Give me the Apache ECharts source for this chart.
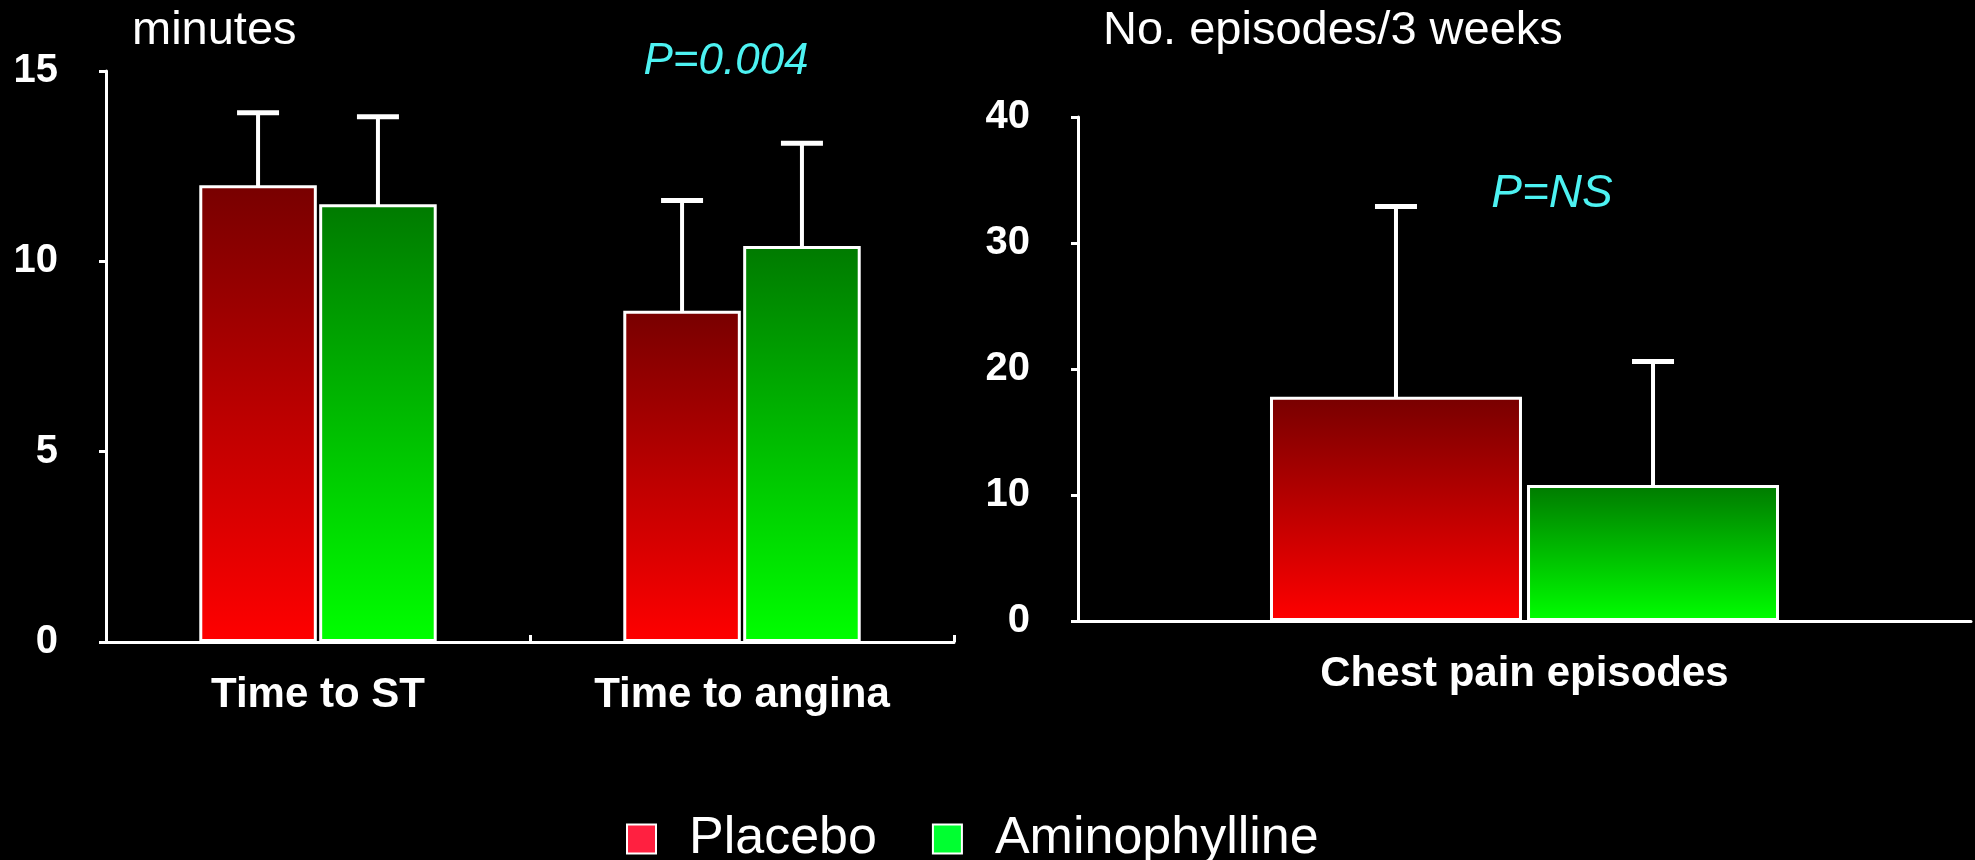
<!DOCTYPE html>
<html>
<head>
<meta charset="utf-8">
<script src="https://cdn.jsdelivr.net/npm/echarts@6/dist/echarts.min.js"></script>
<style>
html,body{margin:0;padding:0;background:#000;}
#chart{width:1975px;height:860px;}
</style>
</head>
<body>
<div id="chart"></div>
<script>
// ---- data ----
const categoriesLeft = ['Time to ST', 'Time to angina'];
const placeboLeft = [12.0, 8.7];
const placeboSDLeft = [1.9, 2.9];
const aminoLeft = [11.5, 10.4];
const aminoSDLeft = [2.3, 2.7];

const categoriesRight = ['Chest pain episodes'];
const placeboRight = [17.8];
const placeboSDRight = [15.1];
const aminoRight = [10.8];
const aminoSDRight = [9.8];

const leftTicks = {min: 0, max: 15, interval: 5};
const rightTicks = {min: 0, max: 40, interval: 10};

const seriesNames = ['Placebo', 'Aminophylline'];
const pLeft = 'P=0.004';
const pRight = 'P=NS';
const unitLeft = 'minutes';
const unitRight = 'No. episodes/3 weeks';

// ---- style ----
const FONT = '"Liberation Sans", Arial, sans-serif';
const CAT_GAP_LEFT = 0.44;
const CAT_GAP_RIGHT = 0.43;
const BAR_GAP = 0.02;

function grad(top, bottom) {
  return new echarts.graphic.LinearGradient(0, 0, 0, 1, [
    {offset: 0, color: top}, {offset: 1, color: bottom}
  ]);
}
const redGrad = grad('#780000', '#FF0000');
const greenGrad = grad('#007A00', '#00FF00');

function errData(vals, sds) {
  return vals.map((v, i) => [i, v, v + sds[i]]);
}

function makeErr(side, catGap) {
  return function (params, api) {
    const ci = api.value(0);
    const v = api.value(1);
    const up = api.value(2);
    const base = api.coord([ci, v]);
    const top = api.coord([ci, up]);
    const band = api.size([1, 0])[0];
    const w = band * (1 - catGap) / (2 + BAR_GAP);
    const x = base[0] + side * (w / 2 + BAR_GAP * w / 2);
    const stemW = 4, capW = 42, capH = 5;
    return {
      type: 'group',
      children: [
        {type: 'rect', shape: {x: x - stemW / 2, y: top[1], width: stemW, height: base[1] - top[1] + 9}, style: {fill: '#fff'}},
        {type: 'rect', shape: {x: x - capW / 2, y: top[1] - capH / 2, width: capW, height: capH}, style: {fill: '#fff'}}
      ]
    };
  };
}

const axisLineStyle = {show: true, lineStyle: {color: '#fff', width: 3}};
const yLabel = {color: '#fff', fontSize: 40, fontWeight: 'bold', fontFamily: FONT, margin: 48};
const xLabel = {color: '#fff', fontSize: 42, fontWeight: 'bold', fontFamily: FONT, margin: 32};
const barBorder = {borderColor: '#fff', borderWidth: 3};

const chart = echarts.init(document.getElementById('chart'), null, {renderer: 'canvas'});
chart.setOption({
  backgroundColor: '#000',
  animation: false,
  legend: {
    data: [
      {name: seriesNames[0], itemStyle: {color: '#FF2040', borderColor: '#fff', borderWidth: 2}},
      {name: seriesNames[1], itemStyle: {color: '#00FF30', borderColor: '#fff', borderWidth: 2}}
    ],
    icon: 'rect',
    left: 621,
    top: 806,
    itemWidth: 29,
    itemHeight: 29,
    itemGap: 55,
    textStyle: {color: '#fff', fontSize: 52, fontFamily: FONT, lineHeight: 56, padding: [0, 0, 0, 28]}
  },
  grid: [
    {left: 106, top: 71, width: 848, height: 571},
    {left: 1078, top: 117, width: 893, height: 504}
  ],
  xAxis: [
    {type: 'category', gridIndex: 0, data: categoriesLeft, axisLine: axisLineStyle,
     axisTick: {show: true, inside: true, length: 7, lineStyle: {color: '#fff', width: 3}},
     axisLabel: xLabel},
    {type: 'category', gridIndex: 1, data: categoriesRight, axisLine: axisLineStyle,
     axisTick: {show: false}, axisLabel: xLabel}
  ],
  yAxis: [
    {type: 'value', gridIndex: 0, min: leftTicks.min, max: leftTicks.max, interval: leftTicks.interval,
     axisLine: axisLineStyle, axisTick: {show: true, length: 7, lineStyle: {color: '#fff', width: 3}},
     splitLine: {show: false}, axisLabel: yLabel},
    {type: 'value', gridIndex: 1, min: rightTicks.min, max: rightTicks.max, interval: rightTicks.interval,
     axisLine: axisLineStyle, axisTick: {show: true, length: 7, lineStyle: {color: '#fff', width: 3}},
     splitLine: {show: false}, axisLabel: yLabel}
  ],
  series: [
    {name: seriesNames[0], type: 'bar', xAxisIndex: 0, yAxisIndex: 0, data: placeboLeft,
     barCategoryGap: (CAT_GAP_LEFT * 100) + '%', barGap: (BAR_GAP * 100) + '%',
     itemStyle: Object.assign({color: redGrad}, barBorder)},
    {name: seriesNames[1], type: 'bar', xAxisIndex: 0, yAxisIndex: 0, data: aminoLeft,
     barCategoryGap: (CAT_GAP_LEFT * 100) + '%', barGap: (BAR_GAP * 100) + '%',
     itemStyle: Object.assign({color: greenGrad}, barBorder)},
    {name: seriesNames[0], type: 'bar', xAxisIndex: 1, yAxisIndex: 1, data: placeboRight,
     barCategoryGap: (CAT_GAP_RIGHT * 100) + '%', barGap: (BAR_GAP * 100) + '%',
     itemStyle: Object.assign({color: redGrad}, barBorder)},
    {name: seriesNames[1], type: 'bar', xAxisIndex: 1, yAxisIndex: 1, data: aminoRight,
     barCategoryGap: (CAT_GAP_RIGHT * 100) + '%', barGap: (BAR_GAP * 100) + '%',
     itemStyle: Object.assign({color: greenGrad}, barBorder)},
    {name: 'errPL', type: 'custom', xAxisIndex: 0, yAxisIndex: 0, z: 1,
     renderItem: makeErr(-1, CAT_GAP_LEFT), encode: {x: 0, y: [1, 2]}, data: errData(placeboLeft, placeboSDLeft)},
    {name: 'errAL', type: 'custom', xAxisIndex: 0, yAxisIndex: 0, z: 1,
     renderItem: makeErr(1, CAT_GAP_LEFT), encode: {x: 0, y: [1, 2]}, data: errData(aminoLeft, aminoSDLeft)},
    {name: 'errPR', type: 'custom', xAxisIndex: 1, yAxisIndex: 1, z: 1,
     renderItem: makeErr(-1, CAT_GAP_RIGHT), encode: {x: 0, y: [1, 2]}, data: errData(placeboRight, placeboSDRight)},
    {name: 'errAR', type: 'custom', xAxisIndex: 1, yAxisIndex: 1, z: 1,
     renderItem: makeErr(1, CAT_GAP_RIGHT), encode: {x: 0, y: [1, 2]}, data: errData(aminoRight, aminoSDRight)}
  ],
  graphic: [
    {type: 'text', left: 132, top: 8, style: {text: unitLeft, fill: '#fff', fontSize: 47, fontFamily: FONT}},
    {type: 'text', left: 1103, top: 8, style: {text: unitRight, fill: '#fff', fontSize: 47, fontFamily: FONT}},
    {type: 'text', x: 726, y: 62, style: {text: pLeft, fill: '#4DF2F2', fontSize: 44, fontStyle: 'italic', fontFamily: FONT, align: 'center', verticalAlign: 'middle'}},
    {type: 'text', x: 1552, y: 194, style: {text: pRight, fill: '#4DF2F2', fontSize: 46, fontStyle: 'italic', fontFamily: FONT, align: 'center', verticalAlign: 'middle'}}
  ]
});
</script>
</body>
</html>
